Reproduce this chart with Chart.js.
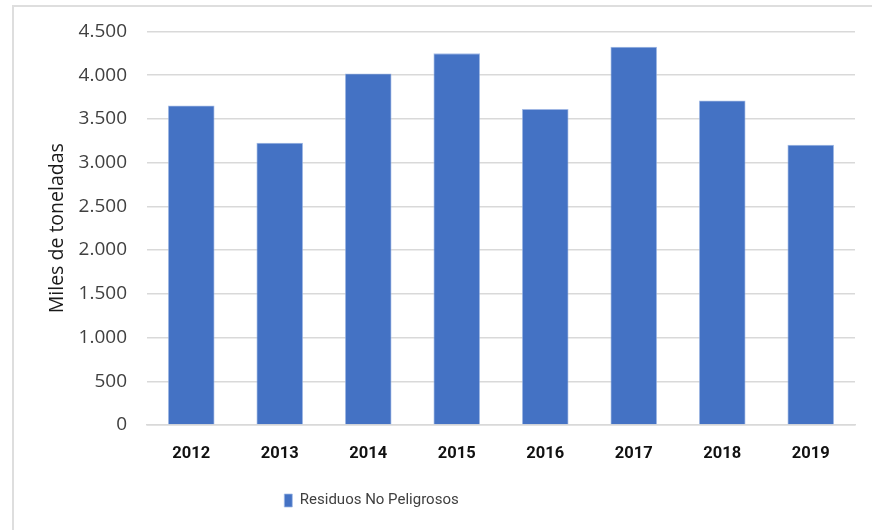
<!DOCTYPE html>
<html>
<head>
<meta charset="utf-8">
<script src="https://cdn.jsdelivr.net/npm/chart.js@4/dist/chart.umd.min.js"></script>
<style>
  html, body { margin: 0; padding: 0; background: #ffffff; }
  #wrap { position: relative; width: 872px; height: 530px; overflow: hidden; }
  #frame { position: absolute; left: 12px; top: 5px; width: 900px; height: 600px;
           border: 2px solid #dedede; box-sizing: border-box; }
  #c { position: absolute; left: 0; top: 0; }
</style>
</head>
<body>
<div id="wrap">
  <div id="frame"></div>
  <canvas id="c" width="872" height="530"></canvas>
</div>
<script>
// Waste generated per year (thousands of tonnes)
const years = ['2012', '2013', '2014', '2015', '2016', '2017', '2018', '2019'];
const residuosNoPeligrosos = [3652, 3227, 4020, 4249, 3613, 4325, 3710, 3204];
const seriesLabel = 'Residuos No Peligrosos';
const axisTitle = 'Miles de toneladas';
const yMin = 0, yMax = 4500, yStep = 500;

const barColor = '#4472c4';
const gridColor = '#d9d9d9';
const textColor = '#404040';

// Spanish thousands separator: 4500 -> "4.500"
const fmt = v => String(v).replace(/\B(?=(\d{3})+(?!\d))/g, '.');

// Place the legend a little left of the canvas centre
const legendShift = {
  id: 'legendShift',
  afterLayout(chart) {
    const lg = chart.legend;
    if (lg) { lg.left -= 56; lg.right -= 56; }
  }
};

new Chart(document.getElementById('c'), {
  type: 'bar',
  data: {
    labels: years,
    datasets: [{
      label: seriesLabel,
      data: residuosNoPeligrosos,
      backgroundColor: barColor,
      borderColor: 'rgba(160,185,230,0.9)',
      borderWidth: 0.8,
      categoryPercentage: 1,
      barPercentage: 0.527
    }]
  },
  options: {
    responsive: false,
    animation: false,
    layout: { padding: { top: 31, right: 17, bottom: 12, left: 0 } },
    plugins: {
      tooltip: { enabled: false },
      legend: {
        position: 'bottom',
        labels: {
          boxWidth: 8,
          boxHeight: 13,
          padding: 10,
          color: textColor,
          font: { family: 'Roboto', size: 15 }
        }
      }
    },
    scales: {
      x: {
        grid: { display: false, drawTicks: false },
        border: { display: true, color: gridColor, width: 1.5 },
        ticks: {
          color: '#111111',
          padding: 19,
          font: { family: 'Roboto', size: 16.5, weight: 'bold' }
        },
        afterFit(scale) { scale.height = 58; }
      },
      y: {
        min: yMin,
        max: yMax,
        ticks: {
          stepSize: yStep,
          padding: 20,
          color: textColor,
          font: { family: '"Open Sans"', size: 19 },
          callback: v => fmt(v)
        },
        grid: { color: gridColor, lineWidth: 1.5, drawTicks: false },
        border: { display: false },
        title: {
          display: true,
          text: axisTitle,
          color: '#1a1a1a',
          padding: { top: 46, bottom: 0 },
          font: { family: '"Open Sans"', size: 19.5 }
        },
        afterFit(scale) { scale.width = 147; }
      }
    }
  },
  plugins: [legendShift]
});
</script>
</body>
</html>
